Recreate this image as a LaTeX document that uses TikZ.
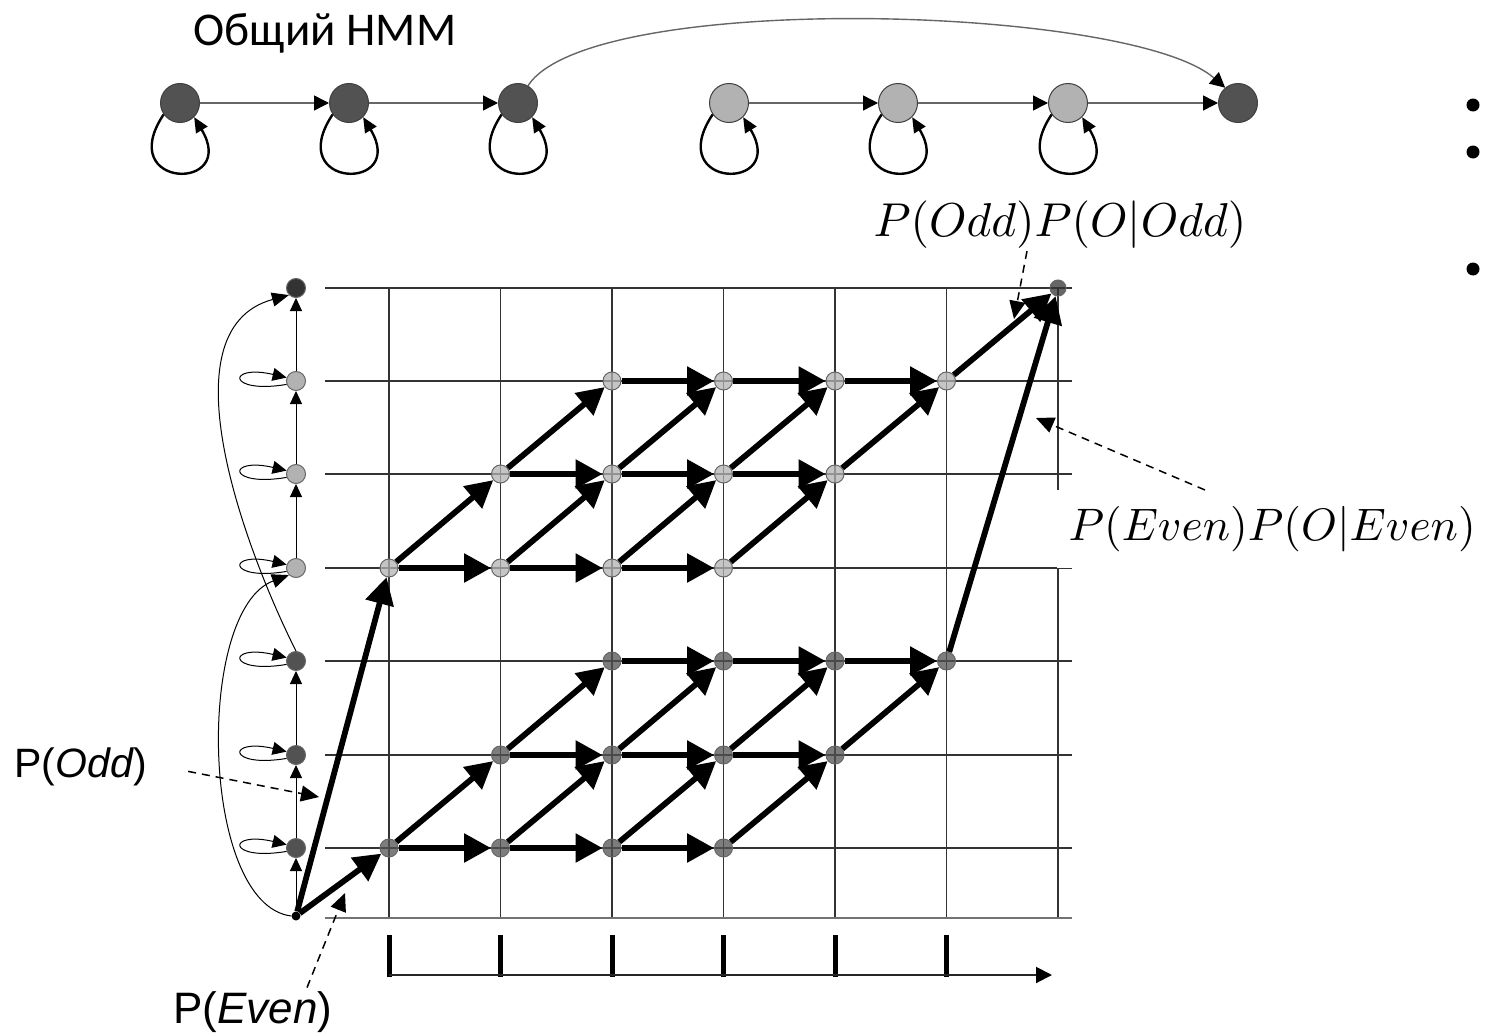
\documentclass[tikz,border=0pt]{standalone}
\usepackage{fontspec}
\usepackage{amsmath}
\usepackage{tikz}
\usetikzlibrary{arrows.meta}
\newfontfamily\calibrifont{Carlito}
\newfontfamily\arialfont{Liberation Sans}

\begin{document}
\begin{tikzpicture}[x=1pt, y=-1pt,
    gridline/.style={draw=black!80, line width=1.3pt},
    dstate/.style={fill=black!68},
    lstate/.style={fill=black!30},
    hmmstate/.style={circle, draw=black!75, line width=1pt, minimum size=39pt, inner sep=0pt},
    hmmarc/.style={draw=black!60, line width=1.4pt, -{Triangle[length=15pt,width=15pt,color=black]}},
    hmmloop/.style={line width=2.4pt, -{Triangle[length=15pt,width=13pt]}},
    colstate/.style={circle, draw=black!60, line width=1pt, minimum size=19pt, inner sep=0pt},
    startdot/.style={circle, fill=black, minimum size=9pt, inner sep=0pt},
    colarr/.style={line width=1pt, -{Triangle[length=13pt,width=12pt]}},
    sideloop/.style={line width=1pt, -{Triangle[length=14pt,width=13pt]}},
    curvearr/.style={line width=1pt, -{Triangle[length=17pt,width=14pt]}},
    latstate/.style={circle, draw=black!60, line width=1pt, minimum size=18pt, inner sep=0pt, fill opacity=0.75},
    bigarr/.style={line width=5.8pt, -{Triangle[length=27pt,width=28pt]}},
    dasharr/.style={dash pattern=on 8pt off 6pt, line width=1.5pt, -{Triangle[length=18pt,width=16pt,sep=0pt]}},
    mathlab/.style={inner sep=3pt},
    arlab/.style={font=\arialfont\fontsize{41}{46}\selectfont},
    tickmark/.style={line width=5pt},
    axisarr/.style={draw=black!85, line width=2pt, -{Triangle[length=16pt,width=16pt,color=black]}},
    bullet/.style={circle, fill=black, minimum size=13pt, inner sep=0pt}
  ]
  \useasboundingbox (0,0) rectangle (1486,1033);
  % The general HMM
  \node[font=\calibrifont\fontsize{47}{52}\selectfont, anchor=base] (title) at (325,46) {Общий НММ};
  \foreach \x/\c [count=\i] in {180/dstate,349/dstate,518/dstate,729/lstate,898/lstate,1068/lstate,1238/dstate}
    \node[hmmstate,\c] (h\i) at (\x,103) {};
  \foreach \i in {1,...,6}
    \draw[hmmloop] (h\i.215) .. controls +(-50,75) and +(45,75) .. (h\i.-45);
  \foreach \i/\j in {1/2,2/3,4/5,5/6,6/7}
    \draw[hmmarc] (h\i) -- (h\j);
  \draw[hmmarc] (h3.60) .. controls (590,-10) and (1130,5) .. (h7.130);
  % Bullets of the slide
  \foreach \y [count=\i] in {105,152,269}
    \node[bullet] (b\i) at (1473,\y) {};
  % Grid
  \foreach \y in {288,381,474,568,661,755,848}
    \draw[gridline] (325,\y) -- (1072,\y);
  \foreach \x in {389,500.5,612,723.5,835,946.5,1058}
    \draw[gridline] (\x,288) -- (\x,918);
  \draw[gridline, draw=black!55, line width=2.2pt] (325,918) -- (1072,918);
  % The states unrolled along the left column
  \node[startdot] (c0) at (296,916) {};
  \foreach \y/\c [count=\i] in {848/dstate,755/dstate,661/dstate,568/lstate,474/lstate,381/lstate}
    \node[colstate,\c] (c\i) at (296,\y) {};
  \node[colstate, fill=black!80] (c7) at (296,288) {};
  \foreach \i/\j in {0/1,1/2,2/3,4/5,5/6,6/7}
    \draw[colarr] (c\i) -- (c\j);
  \foreach \i in {1,...,6}
    \draw[sideloop] (c\i.200) .. controls +(-60,10) and +(-60,-14) .. (c\i.160);
  \draw[curvearr] (c0.west) .. controls (200,905) and (195,610) .. (c4.225);
  \draw[curvearr] (c3.north) .. controls (250,560) and (160,330) .. (c7.225);
  % Lattice
  \foreach \k/\y in {1/848,2/755,3/661}
    \foreach \j in {0,...,3}{
      \pgfmathtruncatemacro\tc{\k+\j}
      \node[latstate,dstate] (d\k-\tc) at ({389+(\tc-1)*111.5},\y) {};
    }
  \foreach \k/\y in {1/568,2/474,3/381}
    \foreach \j in {0,...,3}{
      \pgfmathtruncatemacro\tc{\k+\j}
      \node[latstate,lstate] (l\k-\tc) at ({389+(\tc-1)*111.5},\y) {};
    }
  \node[latstate, minimum size=16pt, fill=black!80] (fin) at (1058,288) {};
  \foreach \k in {1,2,3}
    \foreach \j in {0,1,2}{
      \pgfmathtruncatemacro\tc{\k+\j}
      \pgfmathtruncatemacro\tn{\tc+1}
      \draw[bigarr] (d\k-\tc) -- (d\k-\tn);
      \draw[bigarr] (l\k-\tc) -- (l\k-\tn);
    }
  \foreach \k in {1,2}
    \foreach \j in {0,...,3}{
      \pgfmathtruncatemacro\tc{\k+\j}
      \pgfmathtruncatemacro\tn{\tc+1}
      \pgfmathtruncatemacro\kn{\k+1}
      \draw[bigarr] (d\k-\tc) -- (d\kn-\tn);
      \draw[bigarr] (l\k-\tc) -- (l\kn-\tn);
    }
  \draw[bigarr] (c0) -- (d1-1);
  \draw[bigarr] (c0) -- (l1-1);
  \draw[bigarr] (d3-6) -- (fin);
  \draw[bigarr] (l3-6) -- (fin);
  % Labels
  \node[mathlab, anchor=base] (oddlab) at (1060,236) {\scalebox{4.75}{$P(Odd)P(O|Odd)$}};
  \node[mathlab, fill=white, anchor=north west, minimum width=422pt, minimum height=78pt, inner sep=0pt] (evenlab) at (1057,490) {\hspace*{8pt}\scalebox{4.55}{$P(Even)P(O|Even)$}};
  \coordinate (oddtip) at (1014,319);
  \draw[dasharr] ([xshift=-33pt]oddlab.south) -- (oddtip);
  \coordinate (eventip) at (1036,418);
  \draw[dasharr] ([xshift=148pt]evenlab.north west) -- (eventip);
  \node[arlab, anchor=base] (podd) at (81,777) {P(\textit{Odd})};
  \coordinate (poddtip) at (319,797);
  \draw[dasharr] ([xshift=37pt,yshift=-5pt]podd.east) -- (poddtip);
  \node[arlab, font=\arialfont\fontsize{44}{48}\selectfont, anchor=base] (peven) at (253,1023) {P(\textit{Even})};
  \coordinate (peventip) at (345,893);
  \draw[dasharr] ([xshift=54pt]peven.north) -- (peventip);
  % Time axis
  \foreach \x in {389,500.5,612,723.5,835,946.5}
    \draw[tickmark] (\x,935) -- (\x,977);
  \coordinate (axstart) at (389,975);
  \coordinate (axend) at (1052,975);
  \draw[axisarr] (axstart) -- (axend);
\end{tikzpicture}
\end{document}
